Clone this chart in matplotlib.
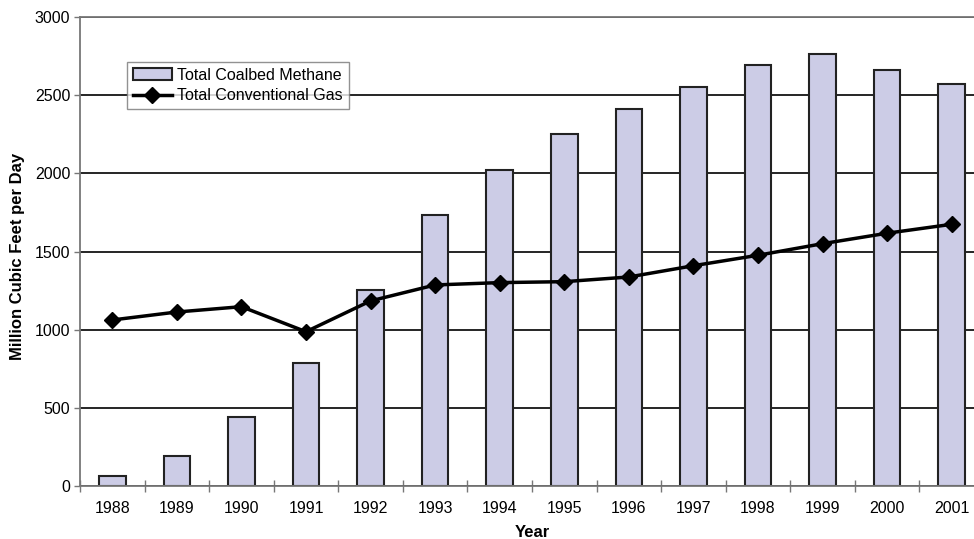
import matplotlib
matplotlib.use("Agg")
import matplotlib.pyplot as plt
import numpy as np
from matplotlib.ticker import FixedLocator

plt.rcParams['font.family'] = ['Liberation Sans', 'DejaVu Sans']

years = ['1988', '1989', '1990', '1991', '1992', '1993', '1994',
         '1995', '1996', '1997', '1998', '1999', '2000', '2001']
coalbed_methane = [62, 192, 444, 786, 1253, 1731, 2019,
                   2252, 2414, 2555, 2694, 2764, 2664, 2574]
conventional_gas = [1062, 1113, 1147, 987, 1184, 1286, 1301,
                    1307, 1337, 1409, 1476, 1550, 1617, 1674]

W, H = 974, 539
fig = plt.figure(figsize=(W / 100, H / 100), dpi=100)
ax = fig.add_axes([80 / W, (H - 486) / H, 904 / W, 469 / H])

x = np.arange(len(years))
bars = ax.bar(x, coalbed_methane, width=0.41, color='#CCCCE6',
              edgecolor='#222222', linewidth=1.5, zorder=2,
              label='Total Coalbed Methane')
line, = ax.plot(x, conventional_gas, color='black', linewidth=2.5, marker='D',
                markersize=8, zorder=3, label='Total Conventional Gas')

ax.set_xlim(-0.5, len(years) - 0.5)
ax.set_ylim(0, 3000)
ax.set_yticks(np.arange(0, 3001, 500))
ax.yaxis.grid(True, color='black', linewidth=1.2, zorder=0)
ax.set_axisbelow(True)

ax.set_xticks(x)
ax.set_xticklabels(years, fontsize=11.5)
ax.xaxis.set_minor_locator(FixedLocator(np.arange(-0.5, len(years), 1.0)))
ax.tick_params(axis='x', which='major', length=0, pad=11)
ax.tick_params(axis='x', which='minor', length=8, direction='inout',
               color='#777777', width=1)
ax.tick_params(axis='y', labelsize=11.5, length=4, color='#777777', width=1,
               pad=3)

for s in ['left', 'bottom', 'top', 'right']:
    ax.spines[s].set_color('#777777')
    ax.spines[s].set_linewidth(1.3)

ax.set_ylabel('Million Cubic Feet per Day', fontsize=12, fontweight='bold')
ax.yaxis.set_label_coords(-0.061, 0.49)
ax.set_xlabel('Year', fontsize=12, fontweight='bold', labelpad=6)

leg = ax.legend([bars, line], ['Total Coalbed Methane', 'Total Conventional Gas'],
                loc='upper left', bbox_to_anchor=(0.052, 0.904), fontsize=11.5,
                frameon=True, fancybox=False, edgecolor='#777777',
                borderpad=0.35, handlelength=2.45, handletextpad=0.35,
                labelspacing=0.35, borderaxespad=0)
leg.get_frame().set_linewidth(1.0)

fig.savefig('out.png', dpi=100)
